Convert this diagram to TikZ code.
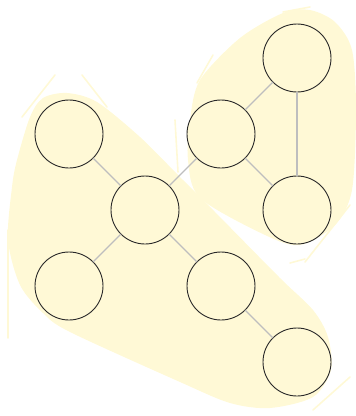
\documentclass[tikz,border=0pt]{standalone}
\definecolor{blob}{RGB}{255,249,214}
\definecolor{nodefill}{RGB}{255,249,214}
\definecolor{edgegray}{RGB}{190,190,190}
\definecolor{rim}{RGB}{40,40,40}
\begin{document}
\begin{tikzpicture}[x=1pt,y=-1pt,
  vertex/.style={circle,draw=rim,fill=nodefill,line width=0.9pt,minimum size=68pt,inner sep=0pt,outer sep=0pt},
  link/.style={draw=edgegray,line width=1.2pt},
  hull/.style={fill=blob,draw=none},
  sketch/.style={draw=blob,line width=1.6pt,line cap=round}]
\useasboundingbox (0,0) rectangle (356,416);
% hulls
\path[hull] plot[smooth cycle,tension=0.5] coordinates {(67,93) (97,102) (140,137) (180,177) (215,212) (280,278) (313,310) (328,337) (331,370) (313,397) (270,408) (230,403) (180,382) (70,332) (43,313) (20,285) (8,240) (12,187) (17,160) (30,117) (43,98)};
\path[hull] plot[smooth cycle,tension=0.5] coordinates {(283,13) (310,10) (335,22) (352,50) (356,110) (352,190) (335,225) (300,245) (265,235) (200,198) (188,160) (190,120) (200,80) (240,38)};
% sketch strokes
\draw[sketch] (22,117) -- (55,75);
\draw[sketch] (82,75) -- (107,107);
\draw[sketch] (8,230) -- (8,338);
\draw[sketch] (175,120) -- (178,172);
\draw[sketch] (213,55) -- (197,83);
\draw[sketch] (283,12) -- (310,7);
\draw[sketch] (313,410) -- (350,377);
\draw[sketch] (350,205) -- (305,262);
\draw[sketch] (290,263) -- (305,259);
% nodes
\node[vertex] (a) at (69,134) {};
\node[vertex] (b) at (145,210) {};
\node[vertex] (c) at (221,134) {};
\node[vertex] (d) at (297,58) {};
\node[vertex] (e) at (297,210) {};
\node[vertex] (f) at (69,286) {};
\node[vertex] (g) at (221,286) {};
\node[vertex] (h) at (297,362) {};
% edges
\draw[link] (a) -- (b);
\draw[link] (b) -- (c);
\draw[link] (c) -- (d);
\draw[link] (c) -- (e);
\draw[link] (d) -- (e);
\draw[link] (b) -- (f);
\draw[link] (b) -- (g);
\draw[link] (g) -- (h);
\end{tikzpicture}
\end{document}
